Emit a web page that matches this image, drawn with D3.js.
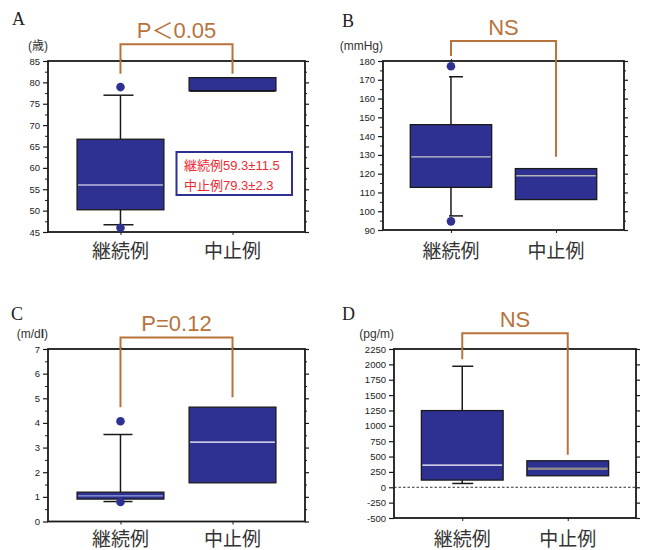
<!DOCTYPE html>
<html><head><meta charset="utf-8">
<script src="https://cdn.jsdelivr.net/npm/d3@7"></script>
<style>
html,body{margin:0;padding:0;background:#fff;}
svg{display:block;font-family:"Liberation Sans",Arial,"Noto Sans CJK JP",sans-serif;}
</style></head>
<body>
<svg id="chart" width="645" height="550"></svg>
<script>
// ---------- data ----------
const categories = ["継続例", "中止例"];
// box = [whiskerLow, q1, median, q3, whiskerHigh]
const ageBoxes = [[46.7, 50.2, 56.0, 66.7, 77.0], [null, 78.0, 78.0, 81.1, null]];
const ageOutliers = [[0, 78.9], [0, 46.0]];
const ageTicks = [45, 50, 55, 60, 65, 70, 75, 80, 85];
const ageMinor = [47.5, 52.5, 57.5, 62.5, 67.5, 72.5, 77.5, 82.5];

const bpBoxes = [[97.5, 112.7, 128.9, 146.1, 171.6], [null, 106.2, 118.9, 122.7, null]];
const bpOutliers = [[0, 177.2], [0, 94.6]];
const bpTicks = [90, 100, 110, 120, 130, 140, 150, 160, 170, 180];
const bpMinor = [95, 105, 115, 125, 135, 145, 155, 165, 175];

const crBoxes = [[0.81, 0.91, 1.04, 1.19, 3.53], [null, 1.57, 3.22, 4.64, null]];
const crOutliers = [[0, 4.07], [0, 0.79]];
const crTicks = [0, 1, 2, 3, 4, 5, 6, 7];
const crMinor = [0.5, 1.5, 2.5, 3.5, 4.5, 5.5, 6.5];

const bnpBoxes = [[62, 117, 360, 1248, 1969], [null, 187, 301, 431, null]];
const bnpOutliers = [];
const bnpTicks = [-500, -250, 0, 250, 500, 750, 1000, 1250, 1500, 1750, 2000, 2250];
const bnpMinor = [];

const pLabels = ["P＜0.05", "NS", "P=0.12", "NS"];
// bracket [top, leftEnd, rightEnd] in data units
const brackets = [[88.9, 82.0, 82.0], [190.6, 182.7, 129.0], [7.47, 4.64, 5.04], [2505, 2083, 528]];
const legendLines = ["継続例59.3±11.5", "中止例79.3±2.3"];

// ---------- layout / style ----------
const NAVY = "#2e3192", BRONZE = "#b8733d", INK = "#1a1a1a";
const panels = [
  {letter:"A", unit:"(歳)", boxes:ageBoxes, outliers:ageOutliers, ticks:ageTicks, minor:ageMinor, domain:[45,85],
   l:48, r:305, t:61, b:232, lx:12, ly:25, catY:258, cap:[-17,13],
   med:[["#ffffff",1.2],["#111111",1.5]], bracket:brackets[0], p:pLabels[0]},
  {letter:"B", unit:"(mmHg)", boxes:bpBoxes, outliers:bpOutliers, ticks:bpTicks, minor:bpMinor, domain:[90,180],
   l:383, r:624, t:61, b:230, lx:342, ly:27, catY:258, cap:[-2,12],
   med:[["#c8c8c8",1.2],["#b4b4b4",1.5]], bracket:brackets[1], p:pLabels[1]},
  {letter:"C", unit:"(m/dl)", boxes:crBoxes, outliers:crOutliers, ticks:crTicks, minor:crMinor, domain:[0,7],
   l:48, r:305, t:349, b:521.5, lx:11, ly:320, catY:546, cap:[-17,12],
   med:[["#a9b6e6",1],["#ffffff",1.2]], bracket:brackets[2], p:pLabels[2]},
  {letter:"D", unit:"(pg/m)", boxes:bnpBoxes, outliers:bnpOutliers, ticks:bnpTicks, minor:bnpMinor, domain:[-500,2250],
   l:394, r:636, t:349, b:518, lx:342, ly:320, catY:546, cap:[-10,11],
   med:[["#ffffff",1.3],["#8a8a8a",2.5]], bracket:brackets[3], p:pLabels[3], zeroLine:true}
];

const svg = d3.select("#chart");

panels.forEach((P, pi) => {
  const g = svg.append("g");
  const y = d3.scaleLinear().domain(P.domain).range([P.b, P.t]);
  const x = d3.scalePoint().domain(categories).range([P.l, P.r]).padding(0.647);
  const boxW = x.step() * 0.775;

  // panel letter
  g.append("text").attr("x", P.lx).attr("y", P.ly)
    .attr("font-family", "'Liberation Serif','DejaVu Serif',serif")
    .attr("font-size", 18).attr("fill", "#222").text(P.letter);

  // unit
  const u = g.append("text").attr("x", P.l).attr("y", P.t - 11)
    .attr("text-anchor", "end").attr("font-size", 12).attr("fill", "#333");
  if (P.unit === "(m/dl)") {
    u.append("tspan").text("(m/d");
    u.append("tspan").attr("font-weight", "bold").text("l");
    u.append("tspan").text(")");
  } else u.text(P.unit);

  // left axis
  const la = g.append("g").attr("transform", `translate(${P.l},0)`)
    .call(d3.axisLeft(y).tickValues(P.ticks).tickSize(5).tickPadding(3).tickFormat(d => String(d)));
  la.select(".domain").remove();
  la.selectAll("line").attr("stroke", INK).attr("stroke-width", 1.2);
  la.selectAll("text").attr("font-size", 9.5).attr("fill", "#222")
    .attr("font-family", "'Liberation Sans',Arial,sans-serif");
  if (P.minor.length) {
    const lm = g.append("g").attr("transform", `translate(${P.l},0)`)
      .call(d3.axisLeft(y).tickValues(P.minor).tickSize(3).tickFormat(""));
    lm.select(".domain").remove();
    lm.selectAll("line").attr("stroke", INK).attr("stroke-width", 1);
  }
  // right axis
  const ra = g.append("g").attr("transform", `translate(${P.r},0)`)
    .call(d3.axisRight(y).tickValues(P.ticks).tickSize(4).tickFormat(""));
  ra.select(".domain").remove();
  ra.selectAll("line").attr("stroke", INK).attr("stroke-width", 1.2);
  if (P.minor.length) {
    const rm = g.append("g").attr("transform", `translate(${P.r},0)`)
      .call(d3.axisRight(y).tickValues(P.minor).tickSize(2).tickFormat(""));
    rm.select(".domain").remove();
    rm.selectAll("line").attr("stroke", INK).attr("stroke-width", 1);
  }
  // bottom axis ticks
  const ba = g.append("g").attr("transform", `translate(0,${P.b})`)
    .call(d3.axisBottom(x).tickSize(3).tickFormat(""));
  ba.select(".domain").remove();
  ba.selectAll("line").attr("stroke", INK).attr("stroke-width", 1);
  const ta = g.append("g").attr("transform", `translate(0,${P.t})`)
    .call(d3.axisTop(x).tickSize(2).tickFormat(""));
  ta.select(".domain").remove();
  ta.selectAll("line").attr("stroke", INK).attr("stroke-width", 1);

  // frame
  g.append("rect").attr("x", P.l).attr("y", P.t).attr("width", P.r - P.l).attr("height", P.b - P.t)
    .attr("fill", "none").attr("stroke", INK).attr("stroke-width", 1.8);

  // zero line
  if (P.zeroLine) {
    g.append("line").attr("x1", P.l).attr("x2", P.r).attr("y1", y(0)).attr("y2", y(0))
      .attr("stroke", "#333").attr("stroke-width", 1).attr("stroke-dasharray", "2.5,2");
  }

  // boxes
  P.boxes.forEach((bx, i) => {
    const cx = x(categories[i]);
    const [lo, q1, md, q3, hi] = bx;
    const bg = g.append("g");
    if (hi != null) {
      bg.append("line").attr("x1", cx).attr("x2", cx).attr("y1", y(q3)).attr("y2", y(hi))
        .attr("stroke", INK).attr("stroke-width", 1.5);
      bg.append("line").attr("x1", cx + P.cap[0]).attr("x2", cx + P.cap[1]).attr("y1", y(hi)).attr("y2", y(hi))
        .attr("stroke", INK).attr("stroke-width", 1.5);
    }
    if (lo != null) {
      bg.append("line").attr("x1", cx).attr("x2", cx).attr("y1", y(q1)).attr("y2", y(lo))
        .attr("stroke", INK).attr("stroke-width", 1.5);
      bg.append("line").attr("x1", cx + P.cap[0]).attr("x2", cx + P.cap[1]).attr("y1", y(lo)).attr("y2", y(lo))
        .attr("stroke", INK).attr("stroke-width", 1.5);
    }
    bg.append("rect").attr("x", cx - boxW / 2).attr("width", boxW)
      .attr("y", y(q3)).attr("height", y(q1) - y(q3))
      .attr("fill", NAVY).attr("stroke", INK).attr("stroke-width", 1.3);
    bg.append("line").attr("x1", cx - boxW / 2 + 1).attr("x2", cx + boxW / 2 - 1)
      .attr("y1", y(md)).attr("y2", y(md))
      .attr("stroke", P.med[i][0]).attr("stroke-width", P.med[i][1]);
  });

  // outliers
  g.selectAll("circle.out").data(P.outliers).join("circle")
    .attr("cx", d => x(categories[d[0]])).attr("cy", d => y(d[1])).attr("r", 4.3)
    .attr("fill", NAVY);

  // bracket
  const [bt, be1, be2] = P.bracket;
  const x1 = x(categories[0]), x2 = x(categories[1]);
  g.append("path")
    .attr("d", `M${x1},${y(be1)}V${y(bt)}H${x2}V${y(be2)}`)
    .attr("fill", "none").attr("stroke", BRONZE).attr("stroke-width", 2);
  g.append("text").attr("x", (x1 + x2) / 2).attr("y", y(bt) - 6.5)
    .attr("text-anchor", "middle").attr("font-size", 22).attr("fill", BRONZE).text(P.p);

  // category labels
  categories.forEach(c => {
    g.append("text").attr("x", x(c)).attr("y", P.catY).attr("text-anchor", "middle")
      .attr("font-family", "'Noto Sans CJK JP',sans-serif")
      .attr("font-size", 19).attr("fill", "#333").text(c);
  });

  // legend (panel A)
  if (pi === 0) {
    const lg = g.append("g");
    lg.append("rect").attr("x", 176.5).attr("y", 152).attr("width", 115.5).attr("height", 43)
      .attr("fill", "#fff").attr("stroke", NAVY).attr("stroke-width", 2);
    legendLines.forEach((t, k) => {
      lg.append("text").attr("x", 184).attr("y", 169.5 + k * 20).attr("font-size", 13)
        .attr("fill", "#ee2a33").text(t);
    });
  }
});
</script>
</body></html>
